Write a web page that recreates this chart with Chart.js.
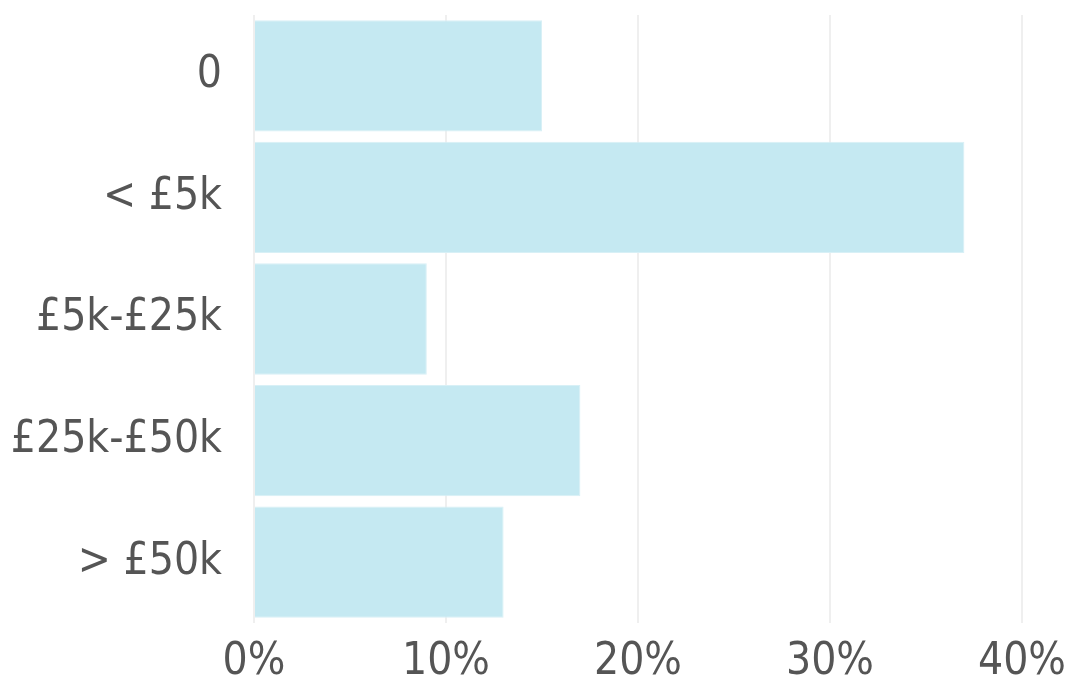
<!DOCTYPE html>
<html>
<head>
<meta charset="utf-8">
<style>
  html, body { margin: 0; padding: 0; background: #fff; }
  #wrap { width: 1069px; height: 684px; }
</style>
<script src="https://cdn.jsdelivr.net/npm/chart.js@4/dist/chart.umd.min.js"></script>
</head>
<body>
<div id="wrap"><canvas id="chartIncome"></canvas></div>
<script>
var categories = ['0', '< £5k', '£5k-£25k', '£25k-£50k', '> £50k'];
var shares = [15, 37, 9, 17, 13];
var xTicks = [0, 10, 20, 30, 40];

(function () {
    'use strict';

    Chart.defaults.font.family = '"DejaVu Sans Condensed", "Liberation Sans Narrow", sans-serif';
    Chart.defaults.font.size = 44;
    Chart.defaults.color = '#555555';

    var blue = '#c5e9f2';

    new Chart(document.getElementById('chartIncome'), {
        type: 'bar',
        data: {
            labels: categories,
            datasets: [{
                data: shares,
                backgroundColor: blue,
                borderColor: '#d8f0f6',
                borderWidth: 1,
                borderSkipped: 'start',
                categoryPercentage: 1,
                barPercentage: 0.915,
            }],
        },
        options: {
            indexAxis: 'y',
            responsive: true,
            maintainAspectRatio: false,
            animation: false,
            layout: { padding: { top: 15, right: 0 } },
            plugins: { legend: { display: false }, tooltip: { enabled: false } },
            scales: {
                x: {
                    min: 0,
                    max: 40,
                    afterBuildTicks: function (axis) {
                        axis.ticks = xTicks.map(function (v) { return { value: v }; });
                    },
                    afterFit: function (axis) {
                        axis.height = 61;
                        axis.paddingRight = 47;
                    },
                    ticks: {
                        padding: 13,
                        maxRotation: 0,
                        callback: function (v) { return v + '%'; },
                    },
                    grid: { color: '#efefef', lineWidth: 2, drawTicks: false },
                    border: { display: false },
                },
                y: {
                    afterFit: function (axis) {
                        axis.width = 254;
                        axis.paddingTop = 0;
                        axis.paddingBottom = 0;
                    },
                    ticks: { padding: 32 },
                    grid: { display: false, drawTicks: false },
                    border: { display: false },
                },
            },
        },
    });
})();
</script>
</body>
</html>
